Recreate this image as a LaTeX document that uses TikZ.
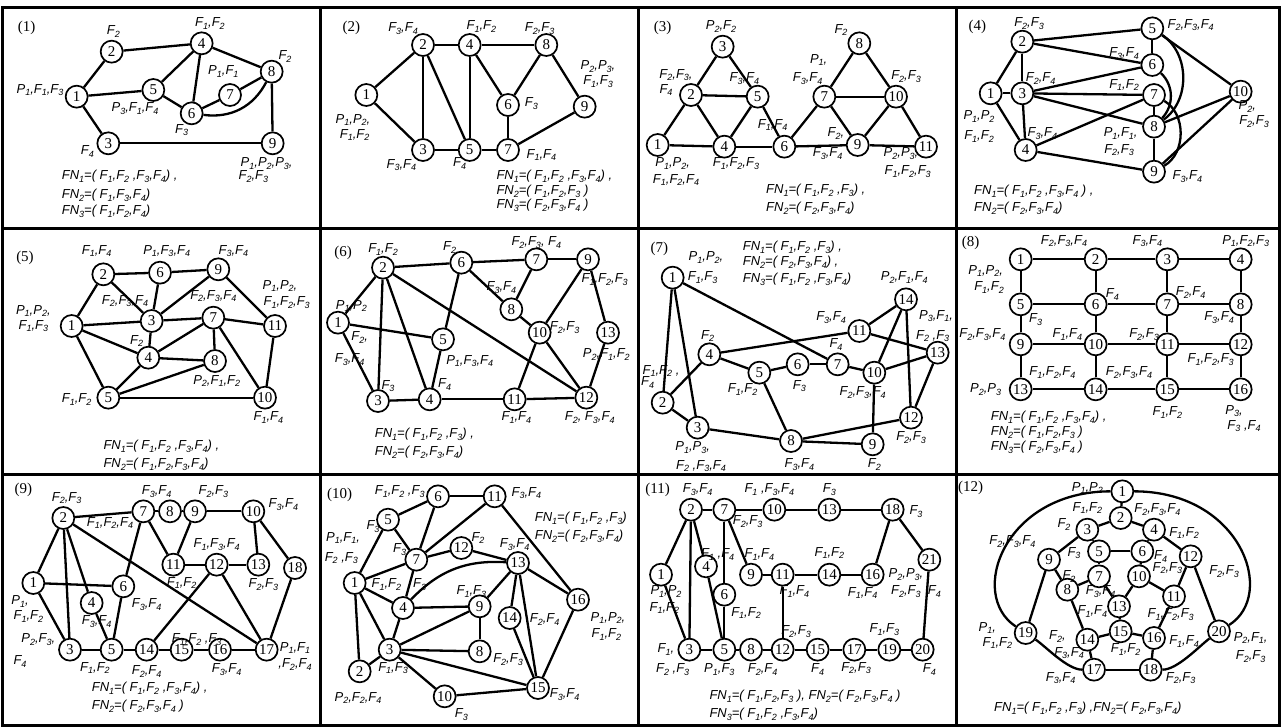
\documentclass[tikz,border=0pt]{standalone}
\usepackage{fontspec}
\setmainfont{Liberation Serif}
\setsansfont{Liberation Sans}
\newcommand\sbx[1]{\raisebox{-0.4ex}{\fontsize{9}{9}\selectfont #1}}
\newcommand\Fx[1]{F\sbx{#1}}
\newcommand\Px[1]{P\sbx{#1}}
\newcommand\FNx[1]{FN\sbx{#1}}
\newcounter{lbc}
\newcommand\lb[2]{\stepcounter{lbc}\node[lab] (lb\arabic{lbc}) at (#1) {#2};}
\newcommand\lw[2]{\stepcounter{lbc}\node[lab,anchor=west] (lb\arabic{lbc}) at (#1) {#2};}
\tikzset{
 nd/.style={circle,draw,line width=1.7pt,fill=white,minimum size=22pt,inner sep=0pt,font=\fontsize{15}{15}\selectfont},
 ed/.style={line width=2.3pt},
 lab/.style={font=\sffamily\itshape\fontsize{13}{13}\selectfont,inner sep=0pt},
 ptag/.style={font=\fontsize{15}{15}\selectfont,inner sep=0pt},
 pn/.style 2 args={shift={(#1pt,-#2pt)},x=0.33333pt,y=-0.33333pt},
}
\begin{document}
\begin{tikzpicture}[x=1pt,y=-1pt]
\useasboundingbox (0,0) rectangle (1281,727);
% ---------- panel 1
\begin{scope}[pn={0}{0}]
\node[ptag] (tA) at (80,85) {(1)};
\foreach \n/\x/\y in {1/230/290,2/335/155,3/325/430,4/605/130,5/460/270,6/575/340,7/690/285,8/815/215,9/818/430}
  \node[nd] (A\n) at (\x,\y) {\n};
\foreach \a/\b in {1/2,2/4,1/5,1/3,4/5,4/6,4/8,5/6,6/7,7/8,8/9,3/9} \draw[ed] (A\a)--(A\b);
\draw[ed] (A6) to[bend right=35] (A8);
\lb{340,95}{\Fx2}
\lb{630,70}{\Fx1,\Fx2}
\lb{855,170}{\Fx2}
\lb{670,215}{\Px1,\Fx1}
\lb{120,270}{\Px1,\Fx1,\Fx3}
\lb{405,325}{\Px3,\Fx1,\Fx4}
\lb{545,390}{\Fx3}
\lb{262,455}{\Fx4}
\lb{800,490}{\Px1,\Px2,\Px3,}
\lb{760,530}{\Fx2,\Fx3}
\lw{185,530}{\FNx1=( \Fx1,\Fx2 ,\Fx3,\Fx4) ,}
\lw{185,585}{\FNx2=( \Fx1,\Fx3,\Fx4)}
\lw{185,635}{\FNx3=( \Fx1,\Fx2,\Fx4)}
\end{scope}
% ---------- panel 2
\begin{scope}[pn={318}{0}]
\node[ptag] (tB) at (100,85) {(2)};
\foreach \n/\x/\y in {1/145/285,2/315/135,3/315/450,4/455/135,5/455/450,6/570/315,7/570/450,8/685/135,9/800/320}
  \node[nd] (B\n) at (\x,\y) {\n};
\foreach \a/\b in {1/2,1/3,2/4,2/3,2/5,4/8,4/5,4/6,3/5,5/7,6/8,6/7,8/9,7/9} \draw[ed] (B\a)--(B\b);
\lb{255,85}{\Fx3,\Fx4}
\lb{490,80}{\Fx1,\Fx2}
\lb{665,85}{\Fx2,\Fx3}
\lb{840,200}{\Px2,\Px3,}
\lb{840,245}{\Fx1,\Fx3}
\lb{640,310}{\Fx3}
\lb{105,360}{\Px1,\Px2,}
\lb{110,405}{\Fx1,\Fx2}
\lb{250,495}{\Fx3,\Fx4}
\lb{425,490}{\Fx4}
\lb{670,465}{\Fx1,\Fx4}
\lw{535,530}{\FNx1=( \Fx1,\Fx2 ,\Fx3,\Fx4) ,}
\lw{535,575}{\FNx2=( \Fx1,\Fx2,\Fx3 )}
\lw{535,615}{\FNx3=( \Fx2,\Fx3,\Fx4 )}
\end{scope}
% ---------- panel 3
\begin{scope}[pn={636}{0}]
\node[ptag] (tC) at (80,85) {(3)};
\foreach \n/\x/\y in {1/65/435,2/165/285,3/260/140,4/265/440,5/365/290,6/445/440,7/565/290,8/670/130,9/665/435,10/780/290,11/870/440}
  \node[nd] (C\n) at (\x,\y) {\n};
\foreach \a/\b in {1/2,2/3,3/5,2/5,2/4,4/5,1/4,4/6,5/6,6/7,6/9,7/8,8/10,7/10,7/9,9/10,10/11,9/11} \draw[ed] (C\a)--(C\b);
\lb{255,80}{\Px2,\Fx2}
\lb{120,225}{\Fx2,\Fx3,}
\lb{90,270}{\Fx4}
\lb{325,235}{\Fx3,\Fx4}
\lb{615,90}{\Fx2}
\lb{548,180}{\Px1,}
\lb{515,235}{\Fx3,\Fx4}
\lb{810,230}{\Fx2,\Fx3}
\lb{410,375}{\Fx1,\Fx4}
\lb{600,400}{\Fx2,}
\lb{575,460}{\Fx3,\Fx4}
\lb{110,490}{\Px1,\Px2,}
\lb{120,540}{\Fx1,\Fx2,\Fx4}
\lb{300,490}{\Fx1,\Fx2,\Fx3}
\lb{795,460}{\Px2,\Px3,}
\lb{815,515}{\Fx1,\Fx2,\Fx3}
\lw{390,570}{\FNx1=( \Fx1,\Fx2 ,\Fx3) ,}
\lw{390,625}{\FNx2=( \Fx2,\Fx3,\Fx4)}
\end{scope}
% ---------- panel 4
\begin{scope}[pn={954}{0}]
\node[ptag] (tD) at (70,80) {(4)};
\foreach \n/\x/\y in {1/110/280,2/205/125,3/205/280,4/215/450,5/595/85,6/595/195,7/600/285,8/600/380,9/600/515,10/860/275}
  \node[nd] (D\n) at (\x,\y) {\n};
\foreach \a/\b in {1/2,1/3,1/4,2/3,3/4,2/5,2/6,5/6,5/10,3/6,3/7,3/8,4/7,7/8,4/9,8/9,8/10,9/10} \draw[ed] (D\a)--(D\b);
\draw[ed] (D5) to[bend left=55] (D8);
\draw[ed] (D6) to[bend left=45] (D8);
\draw[ed] (D7) to[bend left=60] (D9);
\lb{225,70}{\Fx2,\Fx3}
\lb{710,75}{\Fx2,\Fx3,\Fx4}
\lb{510,160}{\Fx3,\Fx4}
\lb{260,235}{\Fx2,\Fx4}
\lb{510,255}{\Fx1,\Fx2}
\lb{880,320}{\Px2,}
\lb{900,365}{\Fx2,\Fx3}
\lb{75,350}{\Px1,\Px2}
\lb{75,410}{\Fx1,\Fx2}
\lb{265,400}{\Fx3,\Fx4}
\lb{500,400}{\Px1,\Fx1,}
\lb{495,450}{\Fx2,\Fx3}
\lb{700,530}{\Fx3,\Fx4}
\lw{60,575}{\FNx1=( \Fx1,\Fx2 ,\Fx3,\Fx4 ) ,}
\lw{60,625}{\FNx2=( \Fx2,\Fx3,\Fx4)}
\end{scope}
% ---------- panel 5
\begin{scope}[pn={0}{226}]
\node[ptag] (tE) at (75,95) {(5)};
\foreach \n/\x/\y in {1/215/300,2/310/145,3/455/285,4/445/395,5/325/515,6/480/140,7/640/275,8/645/405,9/655/130,10/795/515,11/825/300}
  \node[nd] (E\n) at (\x,\y) {\n};
\foreach \a/\b in {1/2,2/6,6/9,2/3,6/3,9/3,9/11,1/3,3/7,7/11,11/10,1/4,1/5,3/4,4/7,4/8,7/8,4/5,5/8,5/10,7/10} \draw[ed] (E\a)--(E\b);
\lb{290,75}{\Fx1,\Fx4}
\lb{500,75}{\Px1,\Fx3,\Fx4}
\lb{700,75}{\Fx3,\Fx4}
\lb{840,180}{\Px1,\Px2,}
\lb{860,230}{\Fx1,\Fx2,\Fx3}
\lb{375,225}{\Fx2,\Fx3,\Fx4}
\lb{640,210}{\Fx2,\Fx3,\Fx4}
\lb{100,255}{\Px1,\Px2,}
\lb{100,300}{\Fx1,\Fx3}
\lb{410,345}{\Fx2}
\lb{650,465}{\Px2,\Fx1,\Fx2}
\lb{230,520}{\Fx1,\Fx2}
\lb{805,575}{\Fx1,\Fx4}
\lw{310,660}{\FNx1=( \Fx1,\Fx2 ,\Fx3,\Fx4) ,}
\lw{310,715}{\FNx2=( \Fx1,\Fx2,\Fx3,\Fx4)}
\end{scope}
% ---------- panel 6
\begin{scope}[pn={318}{226}]
\node[ptag] (tF) at (75,80) {(6)};
\foreach \n/\x/\y in {1/60/290,2/195/125,3/180/525,4/335/520,5/375/340,6/430/110,7/655/100,8/580/250,9/810/100,10/665/320,11/590/520,12/805/515,13/870/320}
  \node[nd] (F\n) at (\x,\y) {\n};
\foreach \a/\b in {1/2,1/3,1/5,2/6,2/3,2/4,2/12,6/7,7/9,6/5,6/8,7/8,8/10,5/4,3/4,4/11,11/12,10/9,10/11,10/12,9/13,13/12} \draw[ed] (F\a)--(F\b);
\lb{195,70}{\Fx1,\Fx2}
\lb{395,65}{\Fx2}
\lb{655,50}{\Fx2,\Fx3, \Fx4}
\lb{860,160}{\Fx1,\Fx2,\Fx3}
\lb{550,185}{\Fx3,\Fx4}
\lb{100,240}{\Px1,\Px2}
\lb{125,335}{\Fx2,}
\lb{95,400}{\Fx3,\Fx4}
\lb{740,305}{\Fx2,\Fx3}
\lb{455,405}{\Px1,\Fx3,\Fx4}
\lb{865,385}{\Px2,\Fx1,\Fx2}
\lb{210,480}{\Fx3}
\lb{380,475}{\Fx4}
\lb{595,575}{\Fx1,\Fx4}
\lb{815,575}{\Fx2, \Fx3,\Fx4}
\lw{170,625}{\FNx1=( \Fx1,\Fx2 ,\Fx3) ,}
\lw{170,680}{\FNx2=( \Fx2,\Fx3,\Fx4)}
\end{scope}
% ---------- panel 7
\begin{scope}[pn={636}{226}]
\clip (6,0) rectangle (960,740);
\node[ptag] (tG) at (70,70) {(7)};
\foreach \n/\x/\y in {1/110/155,2/80/530,3/185/605,4/220/385,5/370/440,6/485/415,7/605/415,8/465/645,9/710/655,10/715/440,11/670/315,12/825/575,13/905/380,14/810/220}
  \node[nd] (G\n) at (\x,\y) {\n};
\foreach \a/\b in {1/2,1/3,1/7,2/3,2/4,4/5,5/6,6/7,7/10,4/11,11/14,11/13,14/10,14/12,10/13,13/12,10/9,5/8,3/8,8/9,8/12} \draw[ed] (G\a)--(G\b);
\lb{210,95}{\Px1,\Px2,}
\lb{200,155}{\Fx1,\Fx3}
\lw{320,65}{\FNx1=( \Fx1,\Fx2 ,\Fx3) ,}
\lw{320,110}{\FNx2=( \Fx2,\Fx3,\Fx4) ,}
\lw{320,160}{\FNx3=( \Fx1,\Fx2 ,\Fx3,\Fx4)}
\lb{805,155}{\Px2,\Fx1,\Fx4}
\lb{585,275}{\Fx3,\Fx4}
\lb{900,270}{\Px3,\Fx1,}
\lb{890,330}{\Fx2 ,\Fx3}
\lb{215,330}{\Fx2}
\lb{600,355}{\Fx4}
\lb{75,435}{\Fx1,\Fx2 ,}
\lb{35,470}{\Fx4}
\lb{320,490}{\Fx1,\Fx2}
\lb{490,480}{\Fx3}
\lb{680,500}{\Fx2,\Fx3,\Fx4}
\lb{825,635}{\Fx2,\Fx3}
\lb{170,665}{\Px1,\Px3,}
\lb{195,720}{\Fx2 ,\Fx3,\Fx4}
\lb{490,715}{\Fx3,\Fx4}
\lb{715,715}{\Fx2}
\end{scope}
% ---------- panel 8
\begin{scope}[pn={954}{226}]
\node[ptag] (tH) at (50,50) {(8)};
\foreach \n/\x/\y in {1/200/100,2/425/100,3/640/100,4/860/100,5/200/235,6/425/235,7/640/235,8/860/235,9/200/355,10/425/355,11/640/355,12/860/355,13/200/490,14/425/490,15/640/490,16/860/490}
  \node[nd] (H\n) at (\x,\y) {\n};
\foreach \a/\b in {1/2,2/3,3/4,5/6,6/7,7/8,9/10,10/11,11/12,13/14,14/15,15/16,1/5,5/9,9/13,2/6,6/10,10/14,3/7,7/11,11/15,4/8,8/12,12/16} \draw[ed] (H\a)--(H\b);
\lb{330,45}{\Fx2,\Fx3,\Fx4}
\lb{580,45}{\Fx3,\Fx4}
\lb{875,45}{\Px1,\Fx2,\Fx3}
\lb{95,135}{\Px1,\Px2,}
\lb{105,185}{\Fx1,\Fx2}
\lb{475,205}{\Fx4}
\lb{710,200}{\Fx2,\Fx4}
\lb{245,280}{\Fx3}
\lb{795,275}{\Fx3,\Fx4}
\lb{85,325}{\Fx2,\Fx3,\Fx4}
\lb{340,325}{\Fx1,\Fx4}
\lb{570,325}{\Fx2,\Fx3}
\lb{770,400}{\Fx1,\Fx2,\Fx3}
\lb{295,440}{\Fx1,\Fx2,\Fx4}
\lb{525,440}{\Fx2,\Fx3,\Fx4}
\lb{95,490}{\Px2,\Px3}
\lb{640,560}{\Fx1,\Fx2}
\lb{840,555}{\Px3,}
\lb{870,600}{\Fx3 ,\Fx4}
\lw{110,575}{\FNx1=( \Fx1,\Fx2 ,\Fx3,\Fx4) ,}
\lw{110,620}{\FNx2=( \Fx1,\Fx2,\Fx3 )}
\lw{110,665}{\FNx3=( \Fx2,\Fx3,\Fx4 )}
\end{scope}
% ---------- panel 9
\begin{scope}[pn={0}{468}]
\node[ptag] (tI) at (70,65) {(9)};
\foreach \n/\x/\y in {1/100/345,2/190/150,3/210/545,4/275/405,5/335/545,6/370/355,7/430/130,8/510/130,9/585/130,10/760/130,11/520/290,12/650/290,13/775/290,14/440/545,15/545/545,16/660/545,17/800/545,18/885/300}
  \node[nd] (I\n) at (\x,\y) {\n};
\foreach \a/\b in {1/2,1/3,1/6,2/3,2/4,2/7,2/17,4/5,6/5,6/7,7/8,8/9,9/10,7/11,9/11,11/12,12/13,10/13,10/18,18/17,12/17,12/14,3/5,5/14,14/15,15/16,16/17} \draw[ed] (I\a)--(I\b);
\lb{200,90}{\Fx2,\Fx3}
\lb{470,70}{\Fx3,\Fx4}
\lb{640,70}{\Fx2,\Fx3}
\lb{850,110}{\Fx3,\Fx4}
\lb{330,165}{\Fx1,\Fx2,\Fx4}
\lb{650,230}{\Fx1,\Fx3,\Fx4}
\lb{790,350}{\Fx2,\Fx3}
\lb{545,345}{\Fx1,\Fx2}
\lb{440,410}{\Fx3,\Fx4}
\lb{60,400}{\Px1,}
\lb{85,445}{\Fx1,\Fx2}
\lb{290,460}{\Fx3,\Fx4}
\lb{115,515}{\Px2,\Fx3,}
\lb{60,580}{\Fx4}
\lb{285,600}{\Fx1,\Fx2}
\lb{440,610}{\Fx2,\Fx4}
\lb{590,515}{\Fx1,\Fx2 ,\Fx3}
\lb{680,605}{\Fx3,\Fx4}
\lb{885,540}{\Px1,\Fx1}
\lb{885,590}{,\Fx2,\Fx4}
\lw{275,660}{\FNx1=( \Fx1,\Fx2 ,\Fx3,\Fx4) ,}
\lw{275,715}{\FNx2=( \Fx2,\Fx3,\Fx4 )}
\end{scope}
% ---------- panel 10
\begin{scope}[pn={318}{468}]
\node[ptag] (tJ) at (65,80) {(10)};
\foreach \n/\x/\y in {1/110/345,2/125/610,3/215/545,4/255/420,5/210/155,6/360/85,7/295/275,8/485/550,9/485/415,10/380/685,11/530/85,12/430/240,13/600/285,14/575/450,15/660/660,16/780/395}
  \node[nd] (J\n) at (\x,\y) {\n};
\foreach \a/\b in {1/5,5/6,5/7,6/11,6/7,7/11,7/1,7/12,7/4,12/13,1/4,1/3,1/2,4/3,4/9,9/13,9/8,3/9,3/8,3/2,3/10,3/15,10/15,13/14,13/15,13/16,14/15,11/16,16/15} \draw[ed] (J\a)--(J\b);
\draw[ed] (J4) to[bend left=25] (J13);
\lb{245,70}{\Fx1,\Fx2 ,\Fx3}
\lb{625,75}{\Fx3,\Fx4}
\lw{650,150}{\FNx1=( \Fx1,\Fx2 ,\Fx3)}
\lw{650,205}{\FNx2=( \Fx2,\Fx3,\Fx4)}
\lb{165,175}{\Fx3}
\lb{75,210}{\Px1,\Fx1,}
\lb{70,270}{\Fx2 ,\Fx3}
\lb{245,245}{\Fx3}
\lb{480,210}{\Fx2}
\lb{590,230}{\Fx3,\Fx4}
\lb{205,350}{\Fx1,\Fx2}
\lb{305,350}{\Fx3}
\lb{460,370}{\Fx1,\Fx3}
\lb{680,455}{\Fx2,\Fx4}
\lb{870,450}{\Px1,\Px2,}
\lb{865,500}{\Fx1,\Fx2}
\lb{570,575}{\Fx2,\Fx3}
\lb{225,600}{\Fx1,\Fx3}
\lb{120,690}{\Px2,\Fx2,\Fx4}
\lb{430,740}{\Fx3}
\lb{740,680}{\Fx3,\Fx4}
\end{scope}
% ---------- panel 11
\begin{scope}[pn={636}{468}]
\node[ptag] (tK) at (65,65) {(11)};
\foreach \n/\x/\y in {1/75/320,2/165/125,3/160/545,4/210/295,5/265/545,6/265/380,7/265/125,8/345/545,9/345/320,10/415/125,11/440/320,12/440/545,13/580/125,14/580/320,15/545/545,16/710/320,17/655/545,18/770/125,19/760/545,20/860/545,21/880/275}
  \node[nd] (K\n) at (\x,\y) {\n};
\foreach \a/\b in {2/7,7/10,10/13,13/18,2/1,2/3,2/4,1/3,4/5,7/6,6/5,7/9,9/11,11/14,14/16,16/18,18/21,21/20,11/12,3/5,5/8,8/12,12/15,15/17,17/19,19/20} \draw[ed] (K\a)--(K\b);
\lb{185,65}{\Fx3,\Fx4}
\lb{400,65}{\Fx1 ,\Fx3,\Fx4}
\lb{580,65}{\Fx3}
\lb{840,130}{\Fx3}
\lb{335,160}{\Fx2,\Fx3}
\lb{245,260}{\Fx1 ,\Fx4}
\lb{370,260}{\Fx1,\Fx4}
\lb{580,255}{\Fx1,\Fx2}
\lb{810,320}{\Px2,\Px3,}
\lb{840,370}{\Fx2,\Fx3 \ \Fx4}
\lb{90,370}{\Px1,\Px2}
\lb{85,420}{\Fx1,\Fx2}
\lb{475,370}{\Fx1,\Fx4}
\lb{680,375}{\Fx1,\Fx4}
\lb{330,435}{\Fx1,\Fx2}
\lb{480,490}{\Fx2,\Fx3}
\lb{745,485}{\Fx1,\Fx3}
\lb{90,545}{\Fx1,}
\lb{110,605}{\Fx2 ,\Fx3}
\lb{250,605}{\Px1,\Fx3}
\lb{380,605}{\Fx2,\Fx4}
\lb{545,605}{\Fx4}
\lb{660,600}{\Fx2,\Fx3}
\lb{880,605}{\Fx4}
\lw{220,685}{\FNx1=( \Fx1,\Fx2,\Fx3 ), \FNx2=( \Fx2,\Fx3,\Fx4 )}
\lw{220,740}{\FNx3=( \Fx1,\Fx2 ,\Fx3,\Fx4)}
\end{scope}
% ---------- panel 12
\begin{scope}[pn={954}{468}]
\node[ptag] (tL) at (50,60) {(12)};
\foreach \n/\x/\y in {1/505/70,2/500/150,3/400/185,4/600/185,5/435/250,6/565/250,7/435/325,8/340/365,9/285/275,10/555/325,11/660/385,12/710/265,13/495/415,14/400/515,15/500/490,16/600/510,17/420/605,18/590/605,19/215/495,20/795/490}
  \node[nd] (L\n) at (\x,\y) {\n};
\draw[ed] (L1) .. controls (150,70) and (40,380) .. (L19);
\draw[ed] (L19) .. controls (275,535) and (340,605) .. (L17);
\draw[ed] (L18) .. controls (670,605) and (735,535) .. (L20);
\draw[ed] (L20) .. controls (970,380) and (860,70) .. (L1);
\foreach \a/\b in {17/18,1/2,2/3,2/4,3/9,3/5,4/6,4/12,5/6,5/7,6/10,7/8,7/13,8/9,8/14,9/19,10/11,10/13,11/12,11/16,12/20,13/15,14/15,15/16,14/17,16/18} \draw[ed] (L\a)--(L\b);
\lb{400,60}{\Px1,\Px2}
\lb{400,120}{\Fx1,\Fx2}
\lb{610,125}{\Fx2,\Fx3,\Fx4}
\lb{330,170}{\Fx2}
\lb{690,195}{\Fx1,\Fx2}
\lb{175,220}{\Fx2,\Fx3,\Fx4}
\lb{360,255}{\Fx3}
\lb{620,265}{\Fx4}
\lb{640,300}{\Fx2,\Fx3}
\lb{810,310}{\Fx2,\Fx3}
\lb{345,325}{\Fx2}
\lb{440,370}{\Fx3,\Fx4}
\lb{415,430}{\Fx1,\Fx4}
\lb{650,440}{\Fx1,\Fx2,\Fx3}
\lb{100,480}{\Px1,}
\lb{130,525}{\Fx1,\Fx2}
\lb{310,505}{\Fx2,}
\lb{345,555}{\Fx3,\Fx4}
\lb{515,545}{\Fx1,\Fx2}
\lb{690,520}{\Fx1,\Fx4}
\lb{890,510}{\Px2,\Fx1,}
\lb{890,565}{\Fx2,\Fx3}
\lb{320,630}{\Fx3,\Fx4}
\lb{680,630}{\Fx2,\Fx3}
\lw{120,720}{\FNx1=( \Fx1,\Fx2 ,\Fx3) ,\FNx2=( \Fx2,\Fx3,\Fx4)}
\end{scope}
% ---------- frame
\draw[line width=3pt] (2,8) rectangle (1279,725);
\draw[line width=3pt] (2,229)--(1279,229) (2,474)--(1279,474)
  (320,8)--(320,725) (638,8)--(638,725) (956,8)--(956,725);
\end{tikzpicture}
\end{document}
